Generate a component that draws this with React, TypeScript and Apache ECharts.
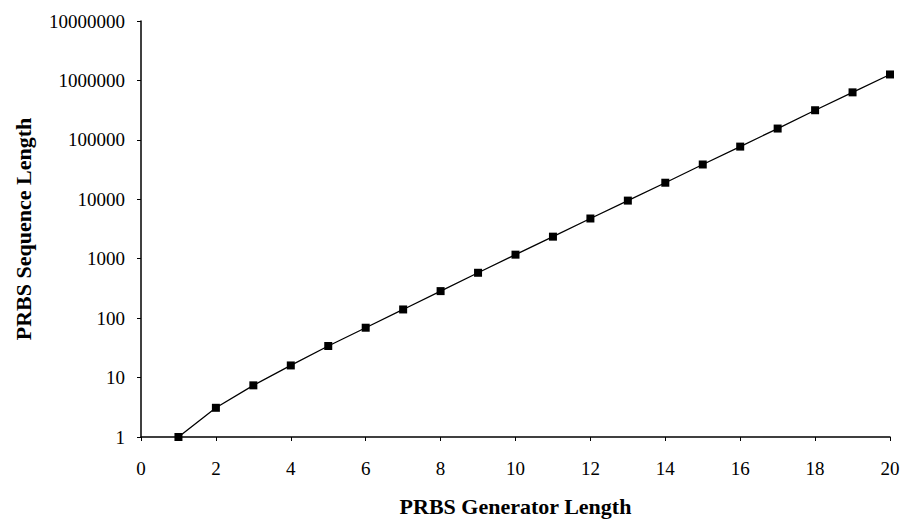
import React, { useEffect, useRef } from "react";
import * as echarts from "echarts";

const generatorLengths = [1, 2, 3, 4, 5, 6, 7, 8, 9, 10, 11, 12, 13, 14, 15, 16, 17, 18, 19, 20];
const sequenceLengths = [
  1, 3.1, 7.4, 16, 34, 69, 140, 285, 580, 1170,
  2350, 4750, 9500, 19000, 38500, 77000, 155000, 315000, 630000, 1260000,
];
const xTitle = "PRBS Generator Length";
const yTitle = "PRBS Sequence Length";

const FONT = "'Liberation Serif', 'Times New Roman', serif";

export default function App() {
  const ref = useRef<HTMLDivElement>(null);
  useEffect(() => {
    if (!ref.current) return;
    const chart = echarts.init(ref.current, undefined, { renderer: "svg" });
    chart.setOption({
      animation: false,
      backgroundColor: "#ffffff",
      grid: { left: 141, right: 18, top: 21, bottom: 85 },
      xAxis: {
        type: "value",
        min: 0,
        max: 20,
        interval: 2,
        name: xTitle,
        nameLocation: "middle",
        nameGap: 58,
        nameTextStyle: { fontFamily: FONT, fontSize: 22, fontWeight: "bold", color: "#000" },
        axisLine: { show: true, lineStyle: { color: "#000", width: 1.5 } },
        axisTick: { show: true, inside: false, length: 4, lineStyle: { color: "#000" } },
        axisLabel: { fontFamily: FONT, fontSize: 19, color: "#000", margin: 22 },
        splitLine: { show: false },
      },
      yAxis: {
        type: "log",
        logBase: 10,
        min: 1,
        max: 10000000,
        name: yTitle,
        nameLocation: "middle",
        nameGap: 107,
        nameTextStyle: { fontFamily: FONT, fontSize: 22, fontWeight: "bold", color: "#000" },
        axisLine: { show: true, lineStyle: { color: "#000", width: 1.5 } },
        axisTick: { show: true, inside: false, length: 4, lineStyle: { color: "#000" } },
        axisLabel: {
          fontFamily: FONT,
          fontSize: 19,
          color: "#000",
          margin: 16,
          formatter: (v: number) => String(Math.round(v)),
        },
        splitLine: { show: false },
        minorTick: { show: false },
      },
      series: [
        {
          type: "line",
          data: generatorLengths.map((x, i) => [x, sequenceLengths[i]]),
          symbol: "rect",
          symbolSize: 8,
          itemStyle: { color: "#000" },
          lineStyle: { color: "#000", width: 1.3 },
        },
      ],
    });
    return () => chart.dispose();
  }, []);
  return <div ref={ref} style={{ width: 908, height: 522, position: "absolute", left: 0, top: 0 }} />;
}
